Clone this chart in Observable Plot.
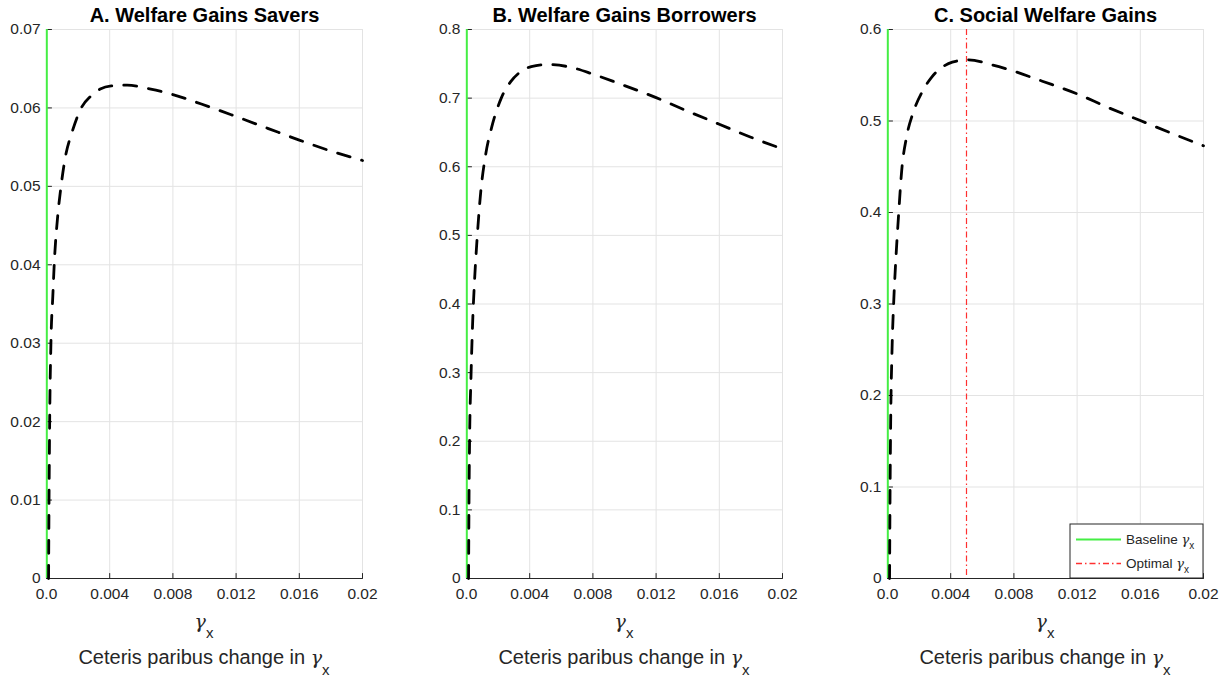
<!DOCTYPE html>
<html><head><meta charset="utf-8">
<script src="https://cdn.jsdelivr.net/npm/d3@7"></script>
<script src="https://cdn.jsdelivr.net/npm/@observablehq/plot@0.6"></script>
<style>
body{margin:0;background:#fff;}
#wrap{position:relative;width:1227px;height:677px;overflow:hidden;font-family:"Liberation Sans",Arial,Helvetica,sans-serif;}
#wrap svg{position:absolute;top:0;}
</style></head><body><div id="wrap"></div>
<script>
// ---- data ----
const gammaGrid = [0.00013, 0.00016, 0.0002, 0.00028, 0.0004, 0.0005, 0.0007, 0.0009, 0.0012, 0.0016, 0.0022, 0.0028, 0.0034, 0.0041, 0.0051, 0.0066, 0.008, 0.0098, 0.012, 0.014, 0.016, 0.018, 0.02];
const savers    = [0, 0.01, 0.02, 0.03, 0.036, 0.0405, 0.046, 0.0497, 0.0538, 0.0568, 0.0600, 0.0615, 0.0624, 0.0628, 0.0629, 0.0624, 0.0617, 0.0605, 0.0589, 0.0574, 0.0559, 0.0545, 0.0533];
const borrowers = [0, 0.12, 0.21, 0.29, 0.38, 0.43, 0.505, 0.563, 0.616, 0.658, 0.700, 0.724, 0.738, 0.746, 0.749, 0.745, 0.735, 0.720, 0.7007, 0.681, 0.662, 0.643, 0.626];
const social    = [0, 0.09, 0.17, 0.245, 0.305, 0.34, 0.397, 0.446, 0.482, 0.508, 0.532, 0.548, 0.558, 0.5643, 0.5669, 0.5614, 0.5544, 0.5435, 0.5297, 0.5145, 0.5005, 0.4865, 0.4729];
const baselineGamma = 0.00002;
const optimalGamma = 0.005;

const xTicks = [0, 0.004, 0.008, 0.012, 0.016, 0.02];
const xTickLabels = ["0.0", "0.004", "0.008", "0.012", "0.016", "0.02"];
const yTicksA = [0, 0.01, 0.02, 0.03, 0.04, 0.05, 0.06, 0.07];
const yLabelsA = ["0", "0.01", "0.02", "0.03", "0.04", "0.05", "0.06", "0.07"];
const yTicksB = [0, 0.1, 0.2, 0.3, 0.4, 0.5, 0.6, 0.7, 0.8];
const yLabelsB = ["0", "0.1", "0.2", "0.3", "0.4", "0.5", "0.6", "0.7", "0.8"];
const yTicksC = [0, 0.1, 0.2, 0.3, 0.4, 0.5, 0.6];
const yLabelsC = ["0", "0.1", "0.2", "0.3", "0.4", "0.5", "0.6"];
const titles = ["A. Welfare Gains Savers", "B. Welfare Gains Borrowers", "C. Social Welfare Gains"];
const captionText = "Ceteris paribus change in ";
const legendLabels = ["Baseline ", "Optimal "];

// ---- styles ----
const FONT = '"Liberation Sans", Arial, Helvetica, sans-serif';
const GREEK = '"DejaVu Serif", serif';
const INK = "#262626";
const GRID = "#e3e3e3";
const GREEN = "#44ee44";
const RED = "#ff3030";
const tickShape = {draw(ctx, l) { ctx.moveTo(0, 0); ctx.lineTo(0, -l); }};

function gammaText(sel, x, y, prefix, size, gSize, subSize, subDy, anchor) {
  const t = sel.append("text").attr("x", x).attr("y", y)
    .attr("text-anchor", anchor).attr("font-size", size)
    .attr("font-family", FONT).attr("fill", INK);
  if (prefix) t.append("tspan").text(prefix);
  t.append("tspan").attr("font-family", GREEK).attr("font-style", "italic").attr("font-size", gSize).text("γ");
  t.append("tspan").attr("font-size", subSize).attr("dy", subDy).text("x");
  return t;
}

function panel({title, values, yTicks, yLabels, left, width, optimal, legend}) {
  const data = gammaGrid.map((g, i) => ({g, v: values[i]}));
  const y0 = yTicks[0], y1 = yTicks[yTicks.length - 1];
  const marks = [
    Plot.gridX({ticks: xTicks, stroke: GRID, strokeOpacity: 1}),
    Plot.gridY({ticks: yTicks, stroke: GRID, strokeOpacity: 1}),
    Plot.axisX({ticks: xTicks, tickFormat: d => xTickLabels[xTicks.indexOf(d)], tickSize: 0, tickPadding: 9, fontSize: 15.5, label: null}),
    Plot.axisY({ticks: yTicks, tickFormat: d => yLabels[yTicks.indexOf(d)], tickSize: 0, tickPadding: 6, fontSize: 15.5, label: null}),
    Plot.ruleY([y0], {stroke: INK, strokeWidth: 1}),
    Plot.ruleX([xTicks[0]], {stroke: INK, strokeWidth: 1}),
    Plot.vector(xTicks, {x: d => d, y: () => y0, length: 5, rotate: 0, anchor: "start", shape: tickShape, stroke: INK, strokeWidth: 1}),
    Plot.vector(yTicks, {x: () => xTicks[0], y: d => d, length: 5, rotate: 90, anchor: "start", shape: tickShape, stroke: INK, strokeWidth: 1}),
    Plot.ruleX([baselineGamma], {stroke: GREEN, strokeWidth: 2})
  ];
  if (optimal) marks.push(Plot.ruleX([optimalGamma], {stroke: RED, strokeWidth: 1.2, strokeDasharray: "6,3,1.5,3"}));
  marks.push(Plot.line(data, {x: "g", y: "v", stroke: "black", strokeWidth: 2.8, strokeDasharray: "13,12", curve: "monotone-x"}));
  marks.push(Plot.text([title], {text: d => d, frameAnchor: "top", dy: -8, lineAnchor: "bottom", fontWeight: "bold", fontSize: 20, fill: "black"}));

  const svg = Plot.plot({
    width, height: 677,
    marginLeft: 46, marginRight: width - 362, marginTop: 29, marginBottom: 99,
    x: {domain: [0, 0.02]},
    y: {domain: [y0, y1]},
    style: {fontFamily: FONT, color: INK, background: "transparent", overflow: "visible"},
    marks
  });
  svg.style.left = left + "px";
  const xr = svg.scale("x").range, yr = svg.scale("y").range;
  const cx = (xr[0] + xr[1]) / 2;
  const s = d3.select(svg);
  gammaText(s, cx, 628, "", 20, 19, 15, 9.5, "middle");
  gammaText(s, cx, 664, captionText, 20, 19, 15, 10.5, "middle");

  if (legend) {
    const right = xr[1], bottom = yr[0];
    const bw = 133, bh = 54;
    const g = s.append("g");
    g.append("rect").attr("x", right - bw).attr("y", bottom - bh).attr("width", bw).attr("height", bh)
      .attr("fill", "white").attr("stroke", INK).attr("stroke-width", 1);
    const lx0 = right - bw + 6, lx1 = lx0 + 45;
    const rows = [{y: bottom - bh + 15.5, stroke: GREEN, w: 2, dash: null}, {y: bottom - bh + 39.5, stroke: RED, w: 1.5, dash: "6,3,1.5,3"}];
    rows.forEach((r, i) => {
      const ln = g.append("line").attr("x1", lx0).attr("x2", lx1).attr("y1", r.y).attr("y2", r.y)
        .style("stroke", r.stroke).style("stroke-width", r.w);
      if (r.dash) ln.style("stroke-dasharray", r.dash);
      gammaText(g, lx1 + 5, r.y + 4.5, legendLabels[i], 13.5, 13, 10, 5, "start");
    });
  }
  document.getElementById("wrap").appendChild(svg);
}

panel({title: titles[0], values: savers, yTicks: yTicksA, yLabels: yLabelsA, left: 0, width: 420});
panel({title: titles[1], values: borrowers, yTicks: yTicksB, yLabels: yLabelsB, left: 420, width: 420});
panel({title: titles[2], values: social, yTicks: yTicksC, yLabels: yLabelsC, left: 841, width: 386, optimal: true, legend: true});
</script></body></html>
